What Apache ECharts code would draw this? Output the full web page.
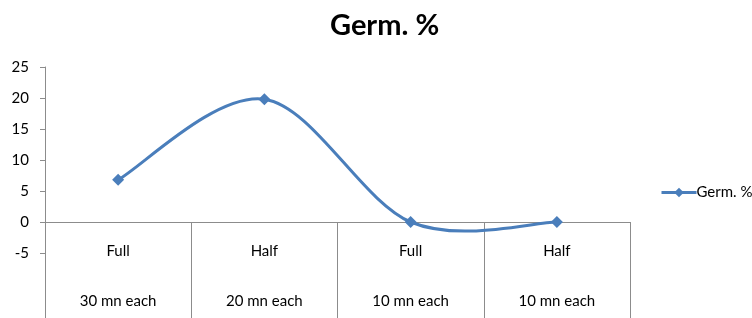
<!DOCTYPE html>
<html>
<head>
    <meta charset="UTF-8">
    <title>Germ. %</title>
    <script src="https://cdn.jsdelivr.net/npm/echarts@6/dist/echarts.min.js"></script>
</head>
<body style="margin:0;">
<div id="chart" style="width:752px; height:318px;"></div>
<script>
    const TREATMENTS = ['Full', 'Half', 'Full', 'Half']
    const DURATIONS = ['30 mn each', '20 mn each', '10 mn each', '10 mn each']
    const GERM = [6.8, 19.8, 0, 0]
    const Y_TICKS = [-5, 0, 5, 10, 15, 20, 25]

    const FONT = 'Lato, "Open Sans", sans-serif'
    const BLUE = '#4a7ebb'
    const GRAY = '#8c8c8c'

    let categories = TREATMENTS.map((t, i) => t + '\n\n' + DURATIONS[i])

    // excel style smoothed segment (catmull-rom -> bezier), control points from neighbours
    function renderSegment(params, api) {
        let i = params.dataIndex
        if (i >= GERM.length - 1) return null
        let pt = k => {
            k = Math.max(0, Math.min(GERM.length - 1, k))
            return api.coord([k, GERM[k]])
        }
        let p0 = pt(i - 1), p1 = pt(i), p2 = pt(i + 1), p3 = pt(i + 2)
        return {
            type: 'bezierCurve',
            shape: {
                x1: p1[0], y1: p1[1],
                x2: p2[0], y2: p2[1],
                cpx1: p1[0] + (p2[0] - p0[0]) / 6,
                cpy1: p1[1] + (p2[1] - p0[1]) / 6,
                cpx2: p2[0] - (p3[0] - p1[0]) / 6,
                cpy2: p2[1] - (p3[1] - p1[1]) / 6
            },
            style: {stroke: BLUE, lineWidth: 3, fill: null}
        }
    }

    let chart = echarts.init(document.getElementById('chart'), null, {renderer: 'canvas'})
    chart.setOption({
        animation: false,
        title: {
            text: 'Germ. %',
            left: 325,
            top: 6,
            textStyle: {fontFamily: FONT, fontSize: 29, fontWeight: 'bold', color: '#000'}
        },
        legend: {
            left: 655,
            top: 180,
            itemWidth: 35,
            itemHeight: 12,
            textStyle: {fontFamily: FONT, fontSize: 15, color: '#000', padding: [0, 0, 0, -5]},
            data: [{name: 'Germ. %', lineStyle: {opacity: 1, color: BLUE, width: 3}}]
        },
        grid: {left: 45, right: 122, top: 67, bottom: 65, outerBoundsMode: 'none', containLabel: false},
        xAxis: {
            type: 'category',
            data: categories,
            boundaryGap: true,
            axisLine: {onZero: true, lineStyle: {color: GRAY, width: 1}},
            axisTick: {show: true, length: 96, inside: false, lineStyle: {color: GRAY}},
            axisLabel: {
                fontFamily: FONT, fontSize: 15, color: '#000',
                lineHeight: 25, margin: -14, interval: 0
            }
        },
        yAxis: {
            type: 'value',
            min: Y_TICKS[0],
            max: Y_TICKS[Y_TICKS.length - 1],
            interval: 5,
            splitLine: {show: false},
            axisLine: {show: true, lineStyle: {color: GRAY}},
            axisTick: {show: true, length: 5, lineStyle: {color: GRAY}},
            axisLabel: {fontFamily: FONT, fontSize: 15, color: '#000', margin: 16}
        },
        series: [{
            name: 'Germ. %',
            type: 'line',
            data: GERM,
            symbol: 'diamond',
            symbolSize: 12,
            z: 3,
            lineStyle: {color: BLUE, width: 3, opacity: 0},
            itemStyle: {color: BLUE}
        }, {
            name: 'curve',
            type: 'custom',
            data: GERM.map((v, i) => [i, v]),
            renderItem: renderSegment,
            z: 2,
            silent: true
        }]
    })
</script>
</body>
</html>
